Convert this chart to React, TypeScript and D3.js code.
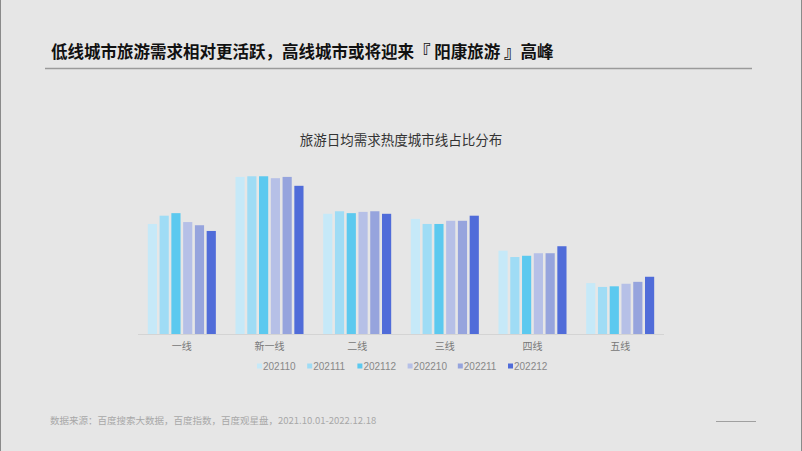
import React from "react";
import * as d3 from "d3";

const categories = ["一线", "新一线", "二线", "三线", "四线", "五线"];
const seriesNames = ["202110", "202111", "202112", "202210", "202211", "202212"];
const s202110 = [17.3, 24.7, 18.9, 18.1, 13.1, 8.0];
const s202111 = [18.6, 24.8, 19.3, 17.3, 12.1, 7.4];
const s202112 = [19.0, 24.8, 19.0, 17.3, 12.3, 7.5];
const s202210 = [17.6, 24.5, 19.2, 17.8, 12.7, 7.9];
const s202211 = [17.1, 24.7, 19.3, 17.8, 12.7, 8.2];
const s202212 = [16.2, 23.3, 18.9, 18.6, 13.8, 9.0];
const seriesValues = [s202110, s202111, s202112, s202210, s202211, s202212];
const colors = ["#c6e9f8", "#9fdcf5", "#5cc9ef", "#b6c0e7", "#96a4dd", "#506cd9"];

const W = 802;
const H = 451;
const FONT = "'Noto Sans CJK SC', 'Liberation Sans', sans-serif";

export default function App() {
  const x0 = d3.scaleBand<string>().domain(categories).range([138, 664]).paddingInner(0.224).paddingOuter(0.112);
  const x1 = d3.scaleBand<string>().domain(seriesNames).range([0, x0.bandwidth()]).paddingInner(0.22).paddingOuter(0);
  const y = d3.scaleLinear().domain([0, 30]).range([334, 334 - 190.8]);

  return (
    <div style={{ width: W, height: H }}>
      <style>{`body{margin:0;}`}</style>
      <svg width={W} height={H} style={{ display: "block" }}>
        <rect x={0} y={0} width={W} height={H} fill="#e6e6e6" />
        <line x1={0.5} y1={0} x2={0.5} y2={H} stroke="#8a8a8a" strokeWidth={1} />
        <line x1={W - 0.5} y1={0} x2={W - 0.5} y2={H} stroke="#8a8a8a" strokeWidth={1} />
        <text x={51} y={58} fontFamily={FONT} fontSize={16.5} fontWeight={700} fill="#111">
          低线城市旅游需求相对更活跃，高线城市或将迎来『 阳康旅游 』高峰
        </text>
        <line x1={45} y1={68.5} x2={752} y2={68.5} stroke="#9a9a9a" strokeWidth={1.6} />
        <text x={401} y={145} textAnchor="middle" fontFamily={FONT} fontSize={13.5} fill="#333">
          旅游日均需求热度城市线占比分布
        </text>
        <line x1={138} y1={334.5} x2={664} y2={334.5} stroke="#d4d4d4" strokeWidth={1} />
        {categories.map((c, ci) => (
          <g key={c} transform={`translate(${x0(c)},0)`}>
            {seriesNames.map((s, si) => {
              const v = seriesValues[si][ci];
              return (
                <rect
                  key={s}
                  x={x1(s)}
                  y={y(v)}
                  width={x1.bandwidth()}
                  height={y(0) - y(v)}
                  fill={colors[si]}
                />
              );
            })}
            <text
              x={x0.bandwidth() / 2}
              y={350}
              textAnchor="middle"
              fontFamily={FONT}
              fontSize={10}
              fill="#777"
            >
              {c}
            </text>
          </g>
        ))}
        {seriesNames.map((s, si) => (
          <g key={s} transform={`translate(${257 + si * 50.2},366)`}>
            <rect x={0} y={-2.5} width={5} height={5} fill={colors[si]} />
            <text x={6} y={3.6} fontFamily="'Liberation Sans', Arial, sans-serif" fontSize={10} fill="#888">
              {s}
            </text>
          </g>
        ))}
        <text x={50} y={424} fontFamily={FONT} fontSize={9.5} fill="#a8a8a8">
          数据来源：百度搜索大数据，百度指数，百度观星盘，2021.10.01-2022.12.18
        </text>
        <line x1={716} y1={421.5} x2={756} y2={421.5} stroke="#a0a0a0" strokeWidth={1} />
      </svg>
    </div>
  );
}
